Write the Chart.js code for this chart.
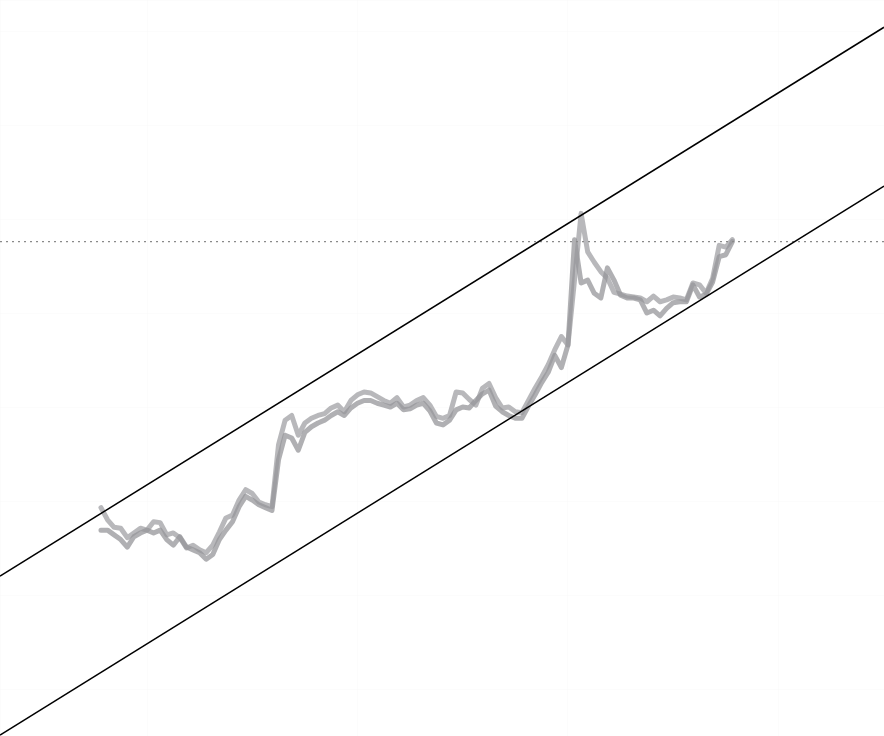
<!DOCTYPE html>
<html>
<head>
<meta charset="utf-8">
<script src="https://cdn.jsdelivr.net/npm/chart.js@4"></script>
<style>
  html, body { margin: 0; padding: 0; background: #fff; }
  #wrap { width: 884px; height: 736px; }
</style>
</head>
<body>
<div id="wrap"><canvas id="chart"></canvas></div>
<script>
// weekly index of the first point
const firstWeek = 25;

const seriesA = [
  29.4, 28.1, 27.3, 27.2, 26.2, 26.7, 27.2, 27.0, 27.9, 27.8,
  26.5, 26.7, 26.2, 25.1, 25.4, 24.9, 24.6, 25.4, 26.8, 28.3,
  28.6, 30.2, 31.3, 30.9, 30.0, 29.7, 29.5, 36.1, 38.7, 39.2,
  37.1, 38.4, 38.9, 39.2, 39.4, 40.0, 40.3, 39.6, 40.8, 41.4,
  41.7, 41.6, 41.2, 40.8, 40.5, 41.1, 40.1, 40.3, 40.8, 41.1,
  40.3, 39.1, 38.9, 39.2, 41.7, 41.6, 40.9, 40.3, 42.1, 42.6,
  41.1, 40.0, 40.1, 39.6, 39.5, 40.8, 42.1, 43.3, 44.6, 46.2,
  47.6, 46.7, 53.6, 60.7, 56.6, 55.5, 54.5, 53.8, 52.3, 52.1,
  51.9, 51.8, 51.7, 51.3, 51.9, 51.3, 51.5, 51.8, 51.7, 51.5,
  53.3, 53.1, 52.2, 53.8, 57.3, 57.1, 57.9
];

const seriesB = [
  27.0, 27.0, 26.5, 26.0, 25.2, 26.3, 26.7, 27.0, 26.7, 27.0,
  26.0, 25.4, 26.3, 25.2, 24.9, 24.6, 23.9, 24.4, 26.0, 27.0,
  27.9, 29.5, 30.6, 30.2, 29.7, 29.4, 29.1, 34.5, 37.1, 36.8,
  35.5, 37.4, 38.0, 38.4, 38.7, 39.2, 39.6, 39.2, 40.0, 40.5,
  40.8, 40.8, 40.5, 40.3, 40.1, 40.5, 39.8, 39.9, 40.3, 40.5,
  39.7, 38.4, 38.2, 38.7, 39.8, 40.1, 40.0, 40.8, 41.5, 41.9,
  40.2, 39.6, 39.2, 38.9, 38.9, 40.2, 41.4, 42.7, 43.8, 45.6,
  44.3, 46.7, 57.9, 53.3, 53.6, 52.2, 51.7, 54.9, 53.6, 52.0,
  51.7, 51.7, 51.5, 50.1, 50.4, 49.8, 50.6, 51.2, 51.3, 51.3,
  53.1, 51.8, 52.1, 53.4, 56.1, 56.3, 57.7
];

// channel: [start, end] at the x-range edges
const channelX = [9.65, 144.05];
const upperChannel = [22.1, 80.5];
const lowerChannel = [5.2, 63.6];
const referenceLevel = 57.7;

const xRange = [9.65, 144.05];
const yRange = [5.1, 83.4];

function toPoints(values) {
  return values.map((v, i) => ({ x: firstWeek + i, y: v }));
}

function edgeLine(ys) {
  return channelX.map((x, i) => ({ x, y: ys[i] }));
}

const ctx = document.getElementById('chart').getContext('2d');
new Chart(ctx, {
  type: 'line',
  data: {
    datasets: [
      {
        data: edgeLine(upperChannel),
        borderColor: '#000',
        borderWidth: 1.5,
        pointRadius: 0,
        order: 0
      },
      {
        data: edgeLine(lowerChannel),
        borderColor: '#000',
        borderWidth: 1.5,
        pointRadius: 0,
        order: 0
      },
      {
        data: edgeLine([referenceLevel, referenceLevel]),
        borderColor: '#8a8a8a',
        borderWidth: 1.2,
        borderDash: [2, 4],
        pointRadius: 0,
        order: 1
      },
      {
        data: toPoints(seriesA),
        borderColor: 'rgba(160, 160, 164, 0.75)',
        borderWidth: 5,
        pointRadius: 0,
        borderJoinStyle: 'round',
        borderCapStyle: 'round',
        order: 3
      },
      {
        data: toPoints(seriesB),
        borderColor: 'rgba(150, 150, 154, 0.75)',
        borderWidth: 5,
        pointRadius: 0,
        borderJoinStyle: 'round',
        borderCapStyle: 'round',
        order: 2
      }
    ]
  },
  options: {
    responsive: true,
    maintainAspectRatio: false,
    animation: false,
    layout: { padding: 0 },
    plugins: {
      legend: { display: false },
      tooltip: { enabled: false },
      title: { display: false }
    },
    scales: {
      x: {
        type: 'linear',
        min: xRange[0],
        max: xRange[1],
        ticks: { display: false, stepSize: 32 },
        grid: { color: 'rgba(0,0,0,0.012)', drawTicks: false },
        border: { display: false }
      },
      y: {
        min: yRange[0],
        max: yRange[1],
        ticks: { display: false, stepSize: 10 },
        grid: { color: 'rgba(0,0,0,0.012)', drawTicks: false },
        border: { display: false }
      }
    }
  }
});
</script>
</body>
</html>
